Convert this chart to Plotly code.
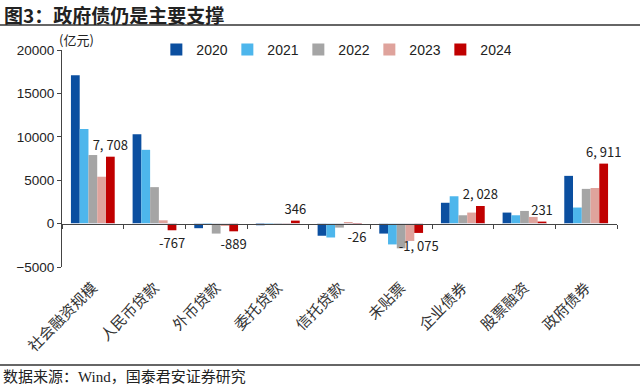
import plotly.graph_objects as go

categories = ["社会融资规模", "人民币贷款", "外币贷款", "委托贷款", "信托贷款", "未贴票", "企业债券", "股票融资", "政府债券"]
years = ["2020", "2021", "2022", "2023", "2024"]
v2020 = [17100, 10300, -530, -190, -1400, -1150, 2400, 1270, 5500]
v2021 = [10900, 8500, -100, -150, -1600, -2400, 3150, 960, 1850]
v2022 = [7900, 4200, -1150, 50, -460, -2850, 960, 1460, 4000]
v2023 = [5400, 380, -270, 30, 110, -2000, 1270, 770, 4100]
v2024 = [7708, -767, -889, 346, -26, -1075, 2028, 231, 6911]
series = [v2020, v2021, v2022, v2023, v2024]
colors = ["#0B4FA0", "#4DB6EC", "#A5A5A5", "#DFA39C", "#C00000"]
y_ticks = [-5000, 0, 5000, 10000, 15000, 20000]

T, B, L, R = 50, 124, 62, 23
PH = 391 - T - B
PW = 640 - L - R

fig = go.Figure()
for yr, vals, col in zip(years, series, colors):
    kw = {}
    if yr == "2024":
        kw = dict(text=[f"{v:,}".replace(",", ", ") for v in vals], textposition="outside",
                  constraintext="none",
                  textfont=dict(size=13, color="#222", family="Noto Sans CJK SC"), cliponaxis=False)
    fig.add_trace(go.Bar(x=categories, y=vals, name=yr, marker_color=col, marker_line_width=0, **kw))

# invisible trace on second x axis for zero-line boundary ticks
fig.add_trace(go.Bar(x=categories, y=[0]*len(categories), xaxis="x2", showlegend=False,
                     hoverinfo="skip", marker_color="rgba(0,0,0,0)"))

fig.update_layout(
    width=640, height=391,
    margin=dict(l=L, r=R, t=T, b=B, autoexpand=False),
    paper_bgcolor="white", plot_bgcolor="white",
    barmode="group", bargap=0.29, bargroupgap=0,
    font=dict(family="Liberation Sans, Arial, Noto Sans CJK SC", size=12, color="#222"),
    xaxis=dict(showline=False, ticks="", tickangle=-45, automargin=False, ticklabelstandoff=8,
               tickfont=dict(family="Noto Sans CJK SC", size=15, color="#333")),
    xaxis2=dict(overlaying="x", anchor="free", position=5000/25000, showline=True, linecolor="#444",
                linewidth=1, ticks="outside", ticklen=4, tickcolor="#444", tickson="boundaries",
                showticklabels=False, matches="x", showgrid=False, automargin=False),
    yaxis=dict(range=[-5000, 20000], tickvals=y_ticks, tickformat="d", showgrid=False, zeroline=False,
               showline=True, linecolor="#444", linewidth=1, ticks="outside", ticklen=4,
               tickcolor="#444", tickfont=dict(size=13.5, color="#222"), automargin=False),
    legend=dict(orientation="h", x=0.17, y=1.0, yanchor="middle", xanchor="left",
                font=dict(size=14, color="#222"), itemwidth=30, entrywidth=26,
                entrywidthmode="pixels", bgcolor="rgba(0,0,0,0)", traceorder="normal"),
    showlegend=True,
)

fig.add_annotation(text="<b>图3：政府债仍是主要支撑</b>", xref="paper", yref="paper", x=-(L - 2)/PW, y=1 + 36/PH,
                   xanchor="left", yanchor="middle", showarrow=False,
                   font=dict(family="Noto Sans CJK SC", size=19, color="#222"))
fig.add_annotation(text="(亿元)", xref="paper", yref="paper", x=-5/PW, y=1 + 10/PH,
                   xanchor="left", yanchor="middle", showarrow=False,
                   font=dict(family="Noto Sans CJK SC", size=13, color="#222"))
fig.add_annotation(text="数据来源：Wind，国泰君安证券研究", xref="paper", yref="paper", x=-(L - 1)/PW, y=-110/PH,
                   xanchor="left", yanchor="middle", showarrow=False,
                   font=dict(family="Liberation Serif, Noto Sans CJK SC", size=15, color="#222"))
fig.add_shape(type="line", xref="paper", yref="paper", x0=-L/PW, x1=1 + R/PW, y0=1 + 25/PH, y1=1 + 25/PH,
              line=dict(color="#333", width=1.5))
fig.add_shape(type="line", xref="paper", yref="paper", x0=-L/PW, x1=1 + R/PW, y0=-98/PH, y1=-98/PH,
              line=dict(color="#333", width=1.5))

fig.write_html("out.html", config={"displayModeBar": False},
               post_script="document.body.style.margin='0';document.body.style.overflow='hidden';")
